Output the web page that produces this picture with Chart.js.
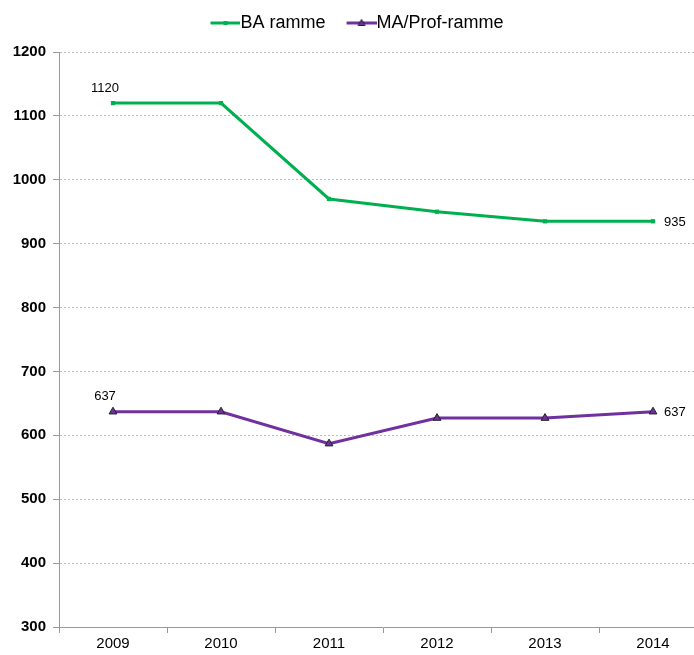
<!DOCTYPE html>
<html>
<head>
<meta charset="utf-8">
<script src="https://cdn.jsdelivr.net/npm/chart.js@4.4.0/dist/chart.umd.min.js"></script>
<style>
  html, body { margin: 0; padding: 0; background: #fff; overflow: hidden; }
  #wrap { width: 694px; height: 655px; overflow: hidden; }
</style>
</head>
<body>
<div id="wrap"><canvas id="chart" width="720" height="655"></canvas></div>
<script>
// Chart data
const years = ['2009', '2010', '2011', '2012', '2013', '2014'];
const baValues = [1120, 1120, 970, 950, 935, 935];
const maValues = [637, 637, 587, 627, 627, 637];
const yTicks = [300, 400, 500, 600, 700, 800, 900, 1000, 1100, 1200];

const green = '#00B050';
const purple = '#7030A0';
const font = '"Liberation Sans", Arial, sans-serif';

// Legend symbol: short line with the marker in the middle (blank strip on the left for spacing)
function legendIcon(color, kind) {
    const c = document.createElement('canvas');
    c.width = 46; c.height = 10;
    const g = c.getContext('2d');
    g.strokeStyle = color;
    g.lineWidth = 3;
    g.beginPath(); g.moveTo(16, 5); g.lineTo(46, 5); g.stroke();
    g.fillStyle = color;
    if (kind === 'square') {
        g.fillRect(29, 3, 4, 4);
    } else {
        g.strokeStyle = '#222';
        g.lineWidth = 1;
        g.beginPath(); g.moveTo(31, 1.5); g.lineTo(34.5, 7.5); g.lineTo(27.5, 7.5); g.closePath();
        g.fill(); g.stroke();
    }
    return c;
}

// Labels on first and last point only
const endLabels = {
    id: 'endLabels',
    afterDatasetsDraw(chart) {
        const ctx = chart.ctx;
        ctx.save();
        ctx.font = '13px ' + font;
        ctx.fillStyle = '#000';
        ctx.textBaseline = 'middle';
        chart.data.datasets.forEach((ds, i) => {
            const pts = chart.getDatasetMeta(i).data;
            const first = pts[0], last = pts[pts.length - 1];
            ctx.textAlign = 'center';
            ctx.fillText(ds.data[0], first.x - 8, first.y - 15);
            ctx.textAlign = 'left';
            ctx.fillText(ds.data[ds.data.length - 1], last.x + 11, last.y + 1);
        });
        ctx.restore();
    }
};

// Extra room under the legend
const legendGap = {
    id: 'legendGap',
    beforeUpdate(chart) {
        const lg = chart.legend;
        if (lg && !lg._gapPatched) {
            const fit = lg.fit;
            lg.fit = function () { fit.call(this); this.height += 10; };
            lg._gapPatched = true;
        }
    }
};

const ctx = document.getElementById('chart').getContext('2d');
new Chart(ctx, {
    type: 'line',
    data: {
        labels: years,
        datasets: [{
            label: 'BA ramme',
            data: baValues,
            borderColor: green,
            backgroundColor: green,
            borderWidth: 3,
            pointStyle: 'rect',
            pointRadius: 3,
            pointBorderWidth: 0,
            tension: 0
        }, {
            label: 'MA/Prof-ramme',
            data: maValues,
            borderColor: purple,
            backgroundColor: purple,
            borderWidth: 3,
            pointStyle: 'triangle',
            pointRadius: 4.5,
            pointBorderColor: '#222',
            pointBorderWidth: 1,
            tension: 0
        }]
    },
    options: {
        responsive: false,
        animation: false,
        layout: { padding: { top: 0, right: 13, bottom: 0, left: 0 } },
        plugins: {
            tooltip: { enabled: false },
            legend: {
                position: 'top',
                labels: {
                    usePointStyle: true,
                    pointStyleWidth: 28,
                    color: '#000',
                    font: { family: font, size: 18 },
                    padding: 14,
                    generateLabels(chart) {
                        return chart.data.datasets.map((ds, i) => ({
                            text: ds.label,
                            datasetIndex: i,
                            fontColor: '#000',
                            pointStyle: legendIcon(ds.borderColor, i === 0 ? 'square' : 'triangle'),
                            lineWidth: 0,
                            strokeStyle: 'transparent',
                            fillStyle: 'transparent'
                        }));
                    }
                }
            }
        },
        scales: {
            x: {
                offset: true,
                afterFit(axis) { axis.height = 28; },
                grid: {
                    offset: true,
                    drawOnChartArea: false,
                    drawTicks: true,
                    tickLength: 6,
                    color: '#999'
                },
                border: { color: '#999', width: 1 },
                ticks: {
                    color: '#000',
                    padding: 2,
                    font: { family: font, size: 15 }
                }
            },
            y: {
                min: 300,
                max: 1200,
                afterBuildTicks(axis) {
                    axis.ticks = yTicks.map(v => ({ value: v }));
                },
                afterFit(axis) { axis.width = 59; },
                grid: {
                    color: '#bbb',
                    tickLength: 6,
                    tickColor: '#999',
                    tickBorderDash: [],
                    drawTicks: true
                },
                border: { color: '#999', width: 1, dash: [2, 2] },
                ticks: {
                    color: '#000',
                    padding: 7,
                    font: { family: font, size: 15, weight: 'bold' },
                    callback: v => String(v)
                }
            }
        }
    },
    plugins: [endLabels, legendGap]
});
</script>
</body>
</html>
